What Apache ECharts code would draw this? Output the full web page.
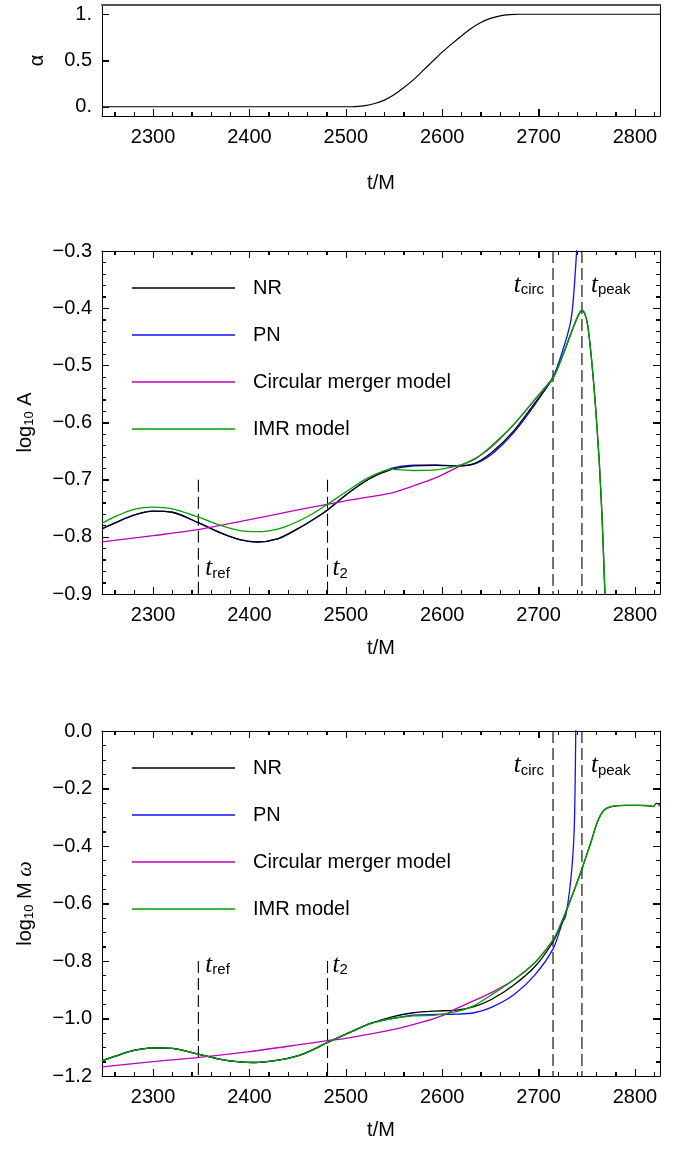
<!DOCTYPE html>
<html><head><meta charset="utf-8">
<script src="https://cdn.jsdelivr.net/npm/echarts@6/dist/echarts.min.js"></script>
<style>html,body{margin:0;padding:0;background:#fff}#c{width:683px;height:1150px}</style>
</head><body><div id="c"></div>
<script>
// ---------- data ----------
const X_MIN = 2247, X_MAX = 2826;
const xMajor = [2300, 2400, 2500, 2600, 2700, 2800];

// panel 1: alpha
const tAlpha = [2247,2500,2510,2520,2530,2540,2550,2560,2570,2580,2590,2600,2610,2620,2630,2640,2650,2660,2670,2680,2826];
const alpha  = [0,0,0.002,0.012,0.035,0.072,0.13,0.205,0.29,0.39,0.49,0.59,0.68,0.765,0.845,0.91,0.955,0.983,0.996,1,1];
const alphaTicks = [0, 0.5, 1];

// panel 2: log10 A
const ampTicks = [-0.9, -0.8, -0.7, -0.6, -0.5, -0.4, -0.3];
const tA   = [2247,2260,2280,2300,2320,2348,2370,2390,2408,2430,2449,2465,2481,2503,2525,2548,2570,2593,2615,2633,2651,2674,2696,2715];
const nrA  = [-0.786,-0.776,-0.762,-0.755,-0.757,-0.776,-0.793,-0.805,-0.809,-0.803,-0.787,-0.771,-0.753,-0.723,-0.698,-0.682,-0.676,-0.675,-0.676,-0.672,-0.653,-0.615,-0.566,-0.522];
const pnA  = [-0.786,-0.776,-0.762,-0.755,-0.757,-0.776,-0.793,-0.805,-0.809,-0.803,-0.787,-0.771,-0.753,-0.723,-0.698,-0.680,-0.6745,-0.674,-0.676,-0.673,-0.656,-0.618,-0.569,-0.520];
const imrA = [-0.776,-0.765,-0.752,-0.748,-0.751,-0.766,-0.780,-0.789,-0.791,-0.786,-0.774,-0.760,-0.743,-0.718,-0.695,-0.682,-0.684,-0.683,-0.676,-0.665,-0.641,-0.604,-0.560,-0.522];
const tAmerge = [2725,2733,2738,2742,2745,2748,2751,2755,2759,2763,2766,2768,2770];
const aMerge  = [-0.483,-0.447,-0.425,-0.41,-0.404,-0.41,-0.43,-0.49,-0.57,-0.67,-0.77,-0.86,-0.95];
const tPnAtail = [2725,2733,2736,2739.5,2741];
const pnAtail  = [-0.474,-0.426,-0.386,-0.3,-0.25];
const tCircA = [2247,2300,2348,2400,2450,2500,2548,2570,2593,2615,2638,2651,2674,2696,2715];
const circA  = [-0.809,-0.798,-0.787,-0.770,-0.753,-0.737,-0.723,-0.711,-0.697,-0.679,-0.659,-0.643,-0.604,-0.560,-0.522];

// panel 3: log10 M omega
const omgTicks = [-1.2, -1.0, -0.8, -0.6, -0.4, -0.2, 0];
const tW   = [2247,2260,2280,2300,2320,2348,2370,2390,2405,2430,2449,2465,2481,2503,2525,2548,2570,2593,2615,2633,2651,2674,2696,2715,2725];
const nrW  = [-1.147,-1.132,-1.111,-1.102,-1.104,-1.125,-1.142,-1.151,-1.153,-1.145,-1.131,-1.110,-1.083,-1.050,-1.018,-0.994,-0.980,-0.974,-0.971,-0.959,-0.934,-0.884,-0.820,-0.733,-0.658];
const pnW  = [-1.147,-1.132,-1.111,-1.102,-1.104,-1.125,-1.142,-1.151,-1.153,-1.145,-1.131,-1.110,-1.083,-1.050,-1.018,-1.000,-0.988,-0.986,-0.985,-0.980,-0.961,-0.918,-0.849,-0.758,-0.664];
const imrW = [-1.147,-1.132,-1.111,-1.102,-1.104,-1.125,-1.142,-1.151,-1.153,-1.145,-1.131,-1.110,-1.083,-1.050,-1.018,-1.000,-0.991,-0.988,-0.976,-0.955,-0.918,-0.866,-0.806,-0.727,-0.655];
const tWmerge = [2735,2745,2750,2755,2760,2765,2770,2778,2790,2805,2815,2819,2822,2824,2826];
const wMerge  = [-0.571,-0.48,-0.43,-0.38,-0.325,-0.288,-0.27,-0.261,-0.259,-0.259,-0.26,-0.263,-0.252,-0.253,-0.261];
const tPnWtail = [2728,2732,2735,2737,2738,2738.6,2739.2];
const pnWtail  = [-0.645,-0.56,-0.46,-0.34,-0.17,0,0.12];
const tCircW = [2247,2300,2348,2400,2450,2481,2500,2550,2580,2600,2615,2633,2651,2674,2696,2715];
const circW  = [-1.168,-1.150,-1.135,-1.115,-1.092,-1.077,-1.069,-1.038,-1.012,-0.990,-0.965,-0.938,-0.910,-0.866,-0.806,-0.727];

// marker times
const T_REF = 2347, T_2 = 2481, T_CIRC = 2715, T_PEAK = 2745;
const seriesNames = ['NR', 'PN', 'Circular merger model', 'IMR model'];

// ---------- chart ----------
const FONT = '"Liberation Sans", Arial, Helvetica, sans-serif';
const COL = { NR: '#000000', PN: '#1010ff', 'Circular merger model': '#bb00bb', 'IMR model': '#00a000' };
const zip = (xs, ys) => xs.map((x, i) => [x, ys[i]]);
const minus = s => s.replace('-', '\u2212');
const r6 = v => Math.round(v * 1e6) / 1e6;
function minorsOf(majors, step, lo, hi) {
  const out = [];
  for (let v = lo; v <= hi + 1e-9; v += step) {
    const rv = r6(v);
    if (!majors.some(m => Math.abs(m - rv) < 1e-6)) out.push(rv);
  }
  return out;
}
const xMinor = minorsOf(xMajor, 20, 2260, 2820);
const ampMinor = minorsOf(ampTicks, 0.02, -0.88, -0.32);
const omgMinor = minorsOf(omgTicks, 0.05, -1.15, -0.05);

const MAJ = 7, MIN = 4;
const grids = [
  { left: 102, top: 5, width: 558, height: 111 },
  { left: 102, top: 251, width: 558, height: 343 },
  { left: 102, top: 731, width: 558, height: 345 }
];

const lab = (o) => Object.assign({ color: '#000', fontFamily: FONT, fontSize: 20 }, o);
const tickOn = (extra) => Object.assign({ show: true, inside: true, length: MAJ, lineStyle: { color: '#000' } }, extra || {});
const minorOn = (n) => ({ show: true, splitNumber: n, length: MIN, lineStyle: { color: '#000' } });

const subRich = {
  s: { fontFamily: FONT, fontSize: 13, color: '#000', padding: [9, 0, 0, 0] },
  w: { fontFamily: '"Liberation Serif", serif', fontStyle: 'italic', fontSize: 22, color: '#000' }
};
const nameStyle = { color: '#000', fontFamily: FONT, fontSize: 20, rich: subRich };

function xAx(g, pos, withTicks, extra) {
  return Object.assign({
    type: 'value', gridIndex: g, position: pos, min: X_MIN, max: X_MAX,
    axisLine: { show: true, onZero: false, lineStyle: { color: '#000', width: 1 } },
    axisTick: withTicks ? tickOn() : { show: false },
    minorTick: withTicks ? minorOn(5) : { show: false },
    axisLabel: pos === 'bottom' ? lab({ margin: 11, customValues: xMajor, formatter: v => String(v) }) : { show: false },
    splitLine: { show: false }
  }, extra || {});
}
function yAx(g, pos, min, max, interval, ticks, minorN, fmt, withTicks, extra) {
  return Object.assign({
    type: 'value', gridIndex: g, position: pos, min, max, interval,
    axisLine: { show: true, onZero: false, lineStyle: { color: '#000', width: 1 } },
    axisTick: withTicks ? tickOn(interval ? {} : { customValues: ticks }) : { show: false },
    minorTick: withTicks && minorN ? minorOn(minorN) : { show: false },
    axisLabel: pos === 'left' ? lab({ margin: 10, customValues: ticks, formatter: fmt }) : { show: false },
    splitLine: { show: false }
  }, extra || {});
}

const xAxes = [
  xAx(0, 'bottom', true, { name: 't/M', nameLocation: 'middle', nameGap: 57, nameTextStyle: nameStyle }),
  xAx(0, 'top', false, { axisLine: { show: true, onZero: false, lineStyle: { color: '#555', width: 2 } } }),
  xAx(1, 'bottom', true, { name: 't/M', nameLocation: 'middle', nameGap: 44, nameTextStyle: nameStyle }),
  xAx(1, 'top', true),
  xAx(2, 'bottom', true, { name: 't/M', nameLocation: 'middle', nameGap: 44, nameTextStyle: nameStyle }),
  xAx(2, 'top', true)
];
const fmtAlpha = v => (v === 0 ? '0.' : v === 1 ? '1.' : String(v));
const fmt1 = v => minus(v.toFixed(1));
const yAxes = [
  yAx(0, 'left', -0.1, 1.1, null, alphaTicks, 0, fmtAlpha, true, { name: 'α', nameLocation: 'middle', nameGap: 55, nameTextStyle: nameStyle }),
  yAx(0, 'right', -0.1, 1.1, null, alphaTicks, 0, fmtAlpha, false),
  yAx(1, 'left', -0.9, -0.3, 0.1, ampTicks, 5, fmt1, true, { name: 'log{s|10} A', nameLocation: 'middle', nameGap: 66, nameTextStyle: nameStyle }),
  yAx(1, 'right', -0.9, -0.3, 0.1, ampTicks, 5, fmt1, true),
  yAx(2, 'left', -1.2, 0, 0.2, omgTicks, 4, fmt1, true, { name: 'log{s|10} M {w|ω}', nameLocation: 'middle', nameGap: 66, nameTextStyle: nameStyle }),
  yAx(2, 'right', -1.2, 0, 0.2, omgTicks, 4, fmt1, true)
];

// tick marks drawn again through the axes' scales (same geometry as the axis ticks)
const tickSets = [
  { g: 0, xMaj: xMajor, xMin: xMinor, yMaj: alphaTicks, yMin: [], mirror: false },
  { g: 1, xMaj: xMajor, xMin: xMinor, yMaj: ampTicks, yMin: ampMinor, mirror: true },
  { g: 2, xMaj: xMajor, xMin: xMinor, yMaj: omgTicks, yMin: omgMinor, mirror: true }
];
function tickShapes(ts, toX, toY, rect) {
  const out = [];
  const yb = rect.y + rect.height, yt = rect.y, xl = rect.x, xr = rect.x + rect.width;
  const addX = (v, len) => {
    const px = Math.round(toX(v)) + 0.5;
    out.push([px, yb, px, yb - len]);
    if (ts.mirror) out.push([px, yt, px, yt + len]);
  };
  const addY = (v, len) => {
    const py = Math.round(toY(v)) + 0.5;
    out.push([xl, py, xl + len, py]);
    if (ts.mirror) out.push([xr, py, xr - len, py]);
  };
  ts.xMaj.forEach(v => addX(v, MAJ)); ts.xMin.forEach(v => addX(v, MIN));
  ts.yMaj.forEach(v => addY(v, MAJ)); ts.yMin.forEach(v => addY(v, MIN));
  return out;
}
function tickSeries(ts) {
  return {
    type: 'custom', xAxisIndex: ts.g * 2, yAxisIndex: ts.g * 2, z: 10, data: [[X_MIN, 0]],
    renderItem(params, api) {
      const cs = params.coordSys;
      const segs = tickShapes(ts, v => api.coord([v, 0])[0], v => api.coord([X_MIN, v])[1], cs);
      return { type: 'group', children: segs.map(s => ({ type: 'line', shape: { x1: s[0], y1: s[1], x2: s[2], y2: s[3] }, style: { stroke: '#000', lineWidth: 1 } })) };
    }
  };
}

function line(name, data, g, z, width) {
  const c = COL[name];
  return {
    type: 'line', name, data, xAxisIndex: g * 2, yAxisIndex: g * 2, showSymbol: false, symbol: 'none',
    smooth: 0.3, z, lineStyle: { color: c, width: width || 1.3 }, itemStyle: { color: c }
  };
}
function dash(t, y0, y1, g) {
  return {
    type: 'line', data: [[t, y0], [t, y1]], xAxisIndex: g * 2, yAxisIndex: g * 2, symbol: 'none', showSymbol: false,
    lineStyle: { color: '#000', width: 1.1, type: [12, 5] }, z: 1
  };
}
const tagRich = {
  t: { fontFamily: '"Liberation Serif", serif', fontStyle: 'italic', fontSize: 25, color: '#000' },
  s: { fontFamily: FONT, fontSize: 15, color: '#000', padding: [10, 0, 0, 0] }
};
function tags(g, items) {
  return {
    type: 'scatter', xAxisIndex: g * 2, yAxisIndex: g * 2, symbolSize: 0, z: 5,
    itemStyle: { opacity: 1, color: '#000' },
    data: items.map(it => ({ value: [it[0], it[1]], name: it[2], label: { position: it[3], distance: it[4] } })),
    label: { show: true, color: '#000', opacity: 1, formatter: p => '{t|t}{s|' + p.name + '}', rich: tagRich }
  };
}

const series = [
  line('NR', zip(tAlpha, alpha), 0, 2, 1.2),
  // panel 2
  line('PN', zip(tA, pnA).concat(zip(tPnAtail, pnAtail)), 1, 2),
  line('NR', zip(tA, nrA).concat(zip(tAmerge, aMerge)), 1, 3),
  line('Circular merger model', zip(tCircA, circA), 1, 4),
  line('IMR model', zip(tA, imrA).concat(zip(tAmerge, aMerge)), 1, 5),
  dash(T_REF, -0.7, -0.9, 1), dash(T_2, -0.7, -0.9, 1), dash(T_CIRC, -0.3, -0.9, 1), dash(T_PEAK, -0.3, -0.9, 1),
  tags(1, [[T_REF, -0.856, 'ref', 'right', 7], [T_2, -0.856, '2', 'right', 5], [T_CIRC, -0.36, 'circ', 'left', 9], [T_PEAK, -0.36, 'peak', 'right', 9]]),
  // panel 3
  line('PN', zip(tW, pnW).concat(zip(tPnWtail, pnWtail)), 2, 2),
  line('NR', zip(tW, nrW).concat(zip(tWmerge, wMerge)), 2, 3),
  line('Circular merger model', zip(tCircW, circW), 2, 4),
  line('IMR model', zip(tW, imrW).concat(zip(tWmerge, wMerge)), 2, 5),
  dash(T_REF, -0.8, -1.2, 2), dash(T_2, -0.8, -1.2, 2), dash(T_CIRC, 0, -1.2, 2), dash(T_PEAK, 0, -1.2, 2),
  tags(2, [[T_REF, -0.814, 'ref', 'right', 7], [T_2, -0.814, '2', 'right', 5], [T_CIRC, -0.12, 'circ', 'left', 9], [T_PEAK, -0.12, 'peak', 'right', 9]])
].concat(tickSets.map(tickSeries));

function legend(top) {
  return {
    data: seriesNames, orient: 'vertical', left: 132, top, padding: 0, itemWidth: 103, itemHeight: 1.5, icon: 'rect',
    itemGap: 27, selectedMode: false,
    textStyle: { color: '#000', fontFamily: FONT, fontSize: 20, padding: [0, 0, 0, 13] }
  };
}

const chart = echarts.init(document.getElementById('c'), null, { renderer: 'canvas' });
chart.setOption({
  animation: false, backgroundColor: '#fff',
  grid: grids, xAxis: xAxes, yAxis: yAxes, series,
  legend: [legend(278), legend(758)]
});

// third copy of the ticks as graphic elements, positioned with convertToPixel
try {
  const gfx = [];
  tickSets.forEach(ts => {
    const ax = ts.g * 2;
    const r = grids[ts.g];
    const rect = { x: r.left, y: r.top, width: r.width, height: r.height };
    const segs = tickShapes(ts,
      v => chart.convertToPixel({ xAxisIndex: ax }, v),
      v => chart.convertToPixel({ yAxisIndex: ax }, v), rect);
    segs.forEach(s => gfx.push({ type: 'line', silent: true, z: 100, shape: { x1: s[0], y1: s[1], x2: s[2], y2: s[3] }, style: { stroke: '#000', lineWidth: 1 } }));
  });
  chart.setOption({ graphic: { elements: gfx } });
} catch (e) { /* keep chart as is */ }
</script></body></html>
